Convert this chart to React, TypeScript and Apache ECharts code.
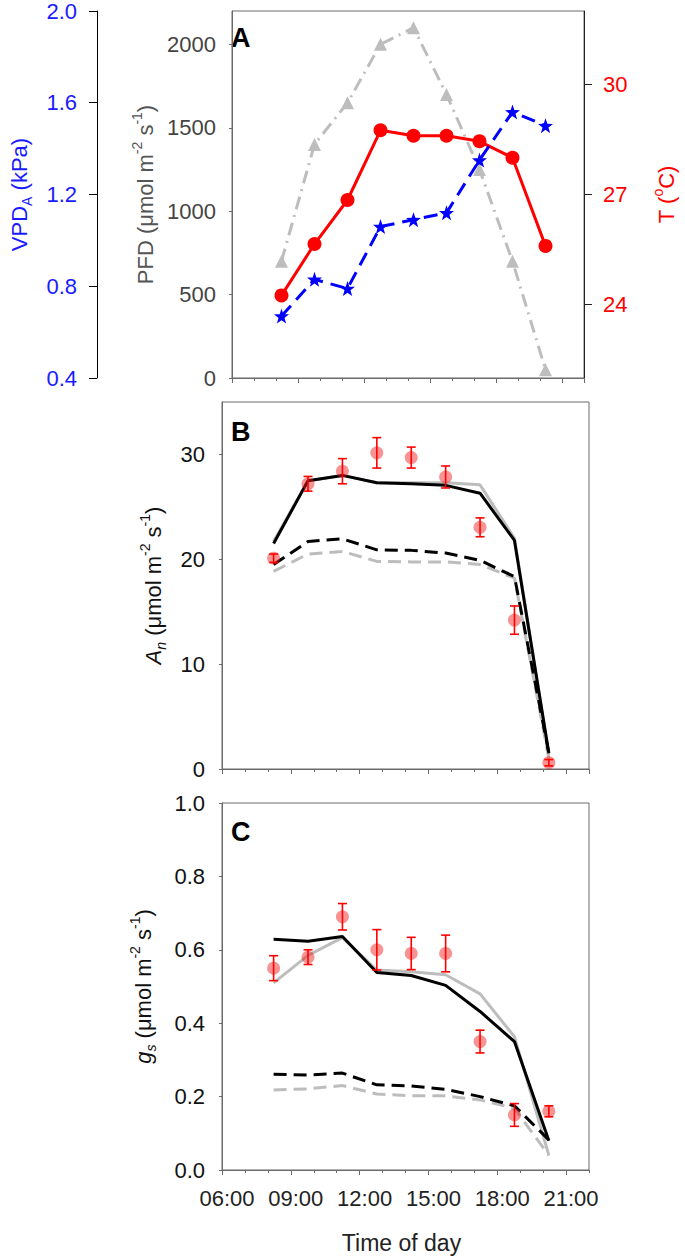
import React, { useEffect, useRef } from "react";
import * as echarts from "echarts";

// ---- data ----
const times = [8.25, 9.75, 11.25, 12.75, 14.25, 15.75, 17.25, 18.75, 20.25];
const xTickLabels = ["06:00", "09:00", "12:00", "15:00", "18:00", "21:00"];

// Panel A
const pfd = [700, 1400, 1650, 2000, 2100, 1700, 1250, 700, 50];
const temp = [24.25, 25.65, 26.85, 28.75, 28.6, 28.6, 28.45, 28.0, 25.6];
const vpd = [0.67, 0.83, 0.79, 1.06, 1.09, 1.12, 1.35, 1.56, 1.5];
const pfdTicks = [0, 500, 1000, 1500, 2000];
const tempTicks = [24, 27, 30];

// Panel B
const anObs = [20.1, 27.2, 28.4, 30.15, 29.7, 27.85, 23.05, 14.2, 0.6];
const anErr = [0.4, 0.7, 1.2, 1.45, 1.0, 1.05, 0.9, 1.35, 0.3];
const anSolidBlack = [21.5, 27.5, 28.0, 27.3, 27.2, 27.05, 26.3, 21.8, 1.5];
const anSolidGray = [21.7, 27.5, 28.0, 27.3, 27.3, 27.3, 27.1, 22.0, 1.3];
const anDashBlack = [19.5, 21.7, 21.95, 20.9, 20.85, 20.6, 19.9, 18.35, 1.5];
const anDashGray = [18.85, 20.5, 20.75, 19.8, 19.75, 19.75, 19.5, 18.2, 1.0];
const anTicks = [0, 10, 20, 30];

// Panel C
const gsObs = [0.55, 0.58, 0.69, 0.6, 0.59, 0.59, 0.35, 0.15, 0.16];
const gsErr = [0.034, 0.02, 0.036, 0.055, 0.044, 0.05, 0.031, 0.031, 0.015];
const gsSolidBlack = [0.629, 0.623, 0.636, 0.538, 0.53, 0.503, 0.432, 0.35, 0.08];
const gsSolidGray = [0.51, 0.585, 0.633, 0.545, 0.54, 0.532, 0.48, 0.363, 0.04];
const gsDashBlack = [0.261, 0.259, 0.264, 0.232, 0.229, 0.22, 0.2, 0.175, 0.082];
const gsDashGray = [0.218, 0.221, 0.23, 0.207, 0.202, 0.202, 0.191, 0.168, 0.04];

const FONT = "Liberation Sans, Arial, sans-serif";
const TICK_FS = 22;

const pts = (arr: number[]) => times.map((t, i) => [t, arr[i]]);

function errorBars(xIdx: number, yIdx: number, obs: number[], err: number[]) {
  return {
    type: "custom",
    xAxisIndex: xIdx,
    yAxisIndex: yIdx,
    z: 6,
    data: times.map((t, i) => [t, obs[i] - err[i], obs[i] + err[i]]),
    encode: { x: 0, y: [1, 2] },
    renderItem: (params: any, api: any) => {
      const x = api.value(0);
      const lo = api.coord([x, api.value(1)]);
      const hi = api.coord([x, api.value(2)]);
      const w = 4.5;
      const style = { stroke: "#ff0000", lineWidth: 1.6 };
      return {
        type: "group",
        children: [
          { type: "line", shape: { x1: lo[0], y1: lo[1], x2: hi[0], y2: hi[1] }, style },
          { type: "line", shape: { x1: lo[0] - w, y1: lo[1], x2: lo[0] + w, y2: lo[1] }, style },
          { type: "line", shape: { x1: hi[0] - w, y1: hi[1], x2: hi[0] + w, y2: hi[1] }, style },
        ],
      };
    },
  };
}

function modelLine(xIdx: number, yIdx: number, arr: number[], color: string, dashed: boolean, z: number) {
  return {
    type: "line",
    xAxisIndex: xIdx,
    yAxisIndex: yIdx,
    data: pts(arr),
    showSymbol: false,
    symbol: "none",
    z,
    lineStyle: { color, width: 3, type: dashed ? [13, 7] : "solid" },
  };
}

function obsScatter(xIdx: number, yIdx: number, arr: number[]) {
  return {
    type: "scatter",
    xAxisIndex: xIdx,
    yAxisIndex: yIdx,
    data: pts(arr),
    symbol: "circle",
    symbolSize: 13,
    z: 5,
    itemStyle: { color: "rgba(240,30,30,0.6)" },
  };
}

const grids = [
  { left: 222, top: 10, width: 367, height: 368 },
  { left: 222, top: 402, width: 367, height: 367 },
  { left: 222, top: 803, width: 367, height: 367 },
].map((g) => ({ ...g, show: true, borderColor: "#6a6a6a", borderWidth: 1, containLabel: false }));

function xAxes() {
  const out: any[] = [];
  for (let g = 0; g < 3; g++) {
    out.push({
      type: "value",
      gridIndex: g,
      position: "bottom",
      min: 6,
      max: 22,
      interval: 3,
      axisLine: { show: true, onZero: false, lineStyle: { color: "#6a6a6a", width: 1 } },
      axisTick: { show: true, length: 5, lineStyle: { color: "#6a6a6a", width: 1 } },
      splitLine: { show: false },
      axisLabel: {
        show: g === 2,
        margin: 17,
        fontSize: TICK_FS,
        color: "#222",
        fontFamily: FONT,
        padding: [0, 0, 0, 10],
        formatter: (v: number) => xTickLabels[Math.round((v - 6) / 3)] ?? "",
        showMaxLabel: false,
      },
      name: g === 2 ? "Time of day" : "",
      nameLocation: "middle",
      nameGap: 61,
      nameTextStyle: { fontSize: 23, color: "#222", fontFamily: FONT, padding: [0, 8, 0, 0] },
    });
  }
  for (let g = 0; g < 3; g++) {
    out.push({
      type: "value",
      gridIndex: g,
      position: "bottom",
      min: 6,
      max: 22,
      interval: 1,
      axisLine: { show: false, onZero: false },
      axisTick: { show: true, length: 3, lineStyle: { color: "#6a6a6a", width: 1 } },
      splitLine: { show: false },
      axisLabel: { show: false },
    });
  }
  return out;
}

const supRich = (color: string) => ({
  a: { fontSize: 22, color, fontFamily: FONT, lineHeight: 30, verticalAlign: "middle" },
  i: { fontSize: 22, color, fontFamily: FONT, fontStyle: "italic", lineHeight: 30, verticalAlign: "middle" },
  sup: { fontSize: 14, color, fontFamily: FONT, lineHeight: 17, verticalAlign: "top" },
  sub: { fontSize: 14, color, fontFamily: FONT, lineHeight: 17, verticalAlign: "bottom" },
  subi: { fontSize: 14, color, fontFamily: FONT, fontStyle: "italic", lineHeight: 17, verticalAlign: "bottom" },
});

const yAxes: any[] = [
  {
    // 0: PFD
    type: "value",
    gridIndex: 0,
    position: "left",
    min: 0,
    max: 2200,
    axisLine: { show: true, onZero: false, lineStyle: { color: "#6a6a6a" } },
    axisTick: { show: true, length: 3, customValues: pfdTicks, lineStyle: { color: "#6a6a6a" } },
    axisLabel: {
      customValues: pfdTicks,
      margin: 16,
      fontSize: TICK_FS,
      color: "#444",
      fontFamily: FONT,
      formatter: (v: number) => String(v),
    },
    splitLine: { show: false },
    name: "{a|PFD (μmol m}{sup|-2}{a| s}{sup|-1}{a|)}",
    nameLocation: "middle",
    nameRotate: 90,
    nameGap: 72,
    nameTextStyle: { rich: supRich("#555") },
  },
  {
    // 1: VPD
    type: "value",
    gridIndex: 0,
    position: "left",
    offset: 135,
    min: 0.4,
    max: 2.0,
    interval: 0.4,
    axisLine: { show: true, onZero: false, lineStyle: { color: "#000" } },
    axisTick: { show: true, length: 8, lineStyle: { color: "#000" } },
    axisLabel: {
      margin: 20,
      fontSize: TICK_FS,
      color: "#1a1aff",
      fontFamily: FONT,
      formatter: (v: number) => v.toFixed(1),
    },
    splitLine: { show: false },
    name: "{a|VPD}{sub|A}{a| (kPa)}",
    nameLocation: "middle",
    nameRotate: 90,
    nameGap: 63,
    nameTextStyle: { rich: supRich("#1a1aff") },
  },
  {
    // 2: T
    type: "value",
    gridIndex: 0,
    position: "right",
    min: 22,
    max: 32,
    axisLine: { show: true, onZero: false, lineStyle: { color: "#222" } },
    axisTick: { show: true, length: 8, customValues: tempTicks, lineStyle: { color: "#222" } },
    axisLabel: { customValues: tempTicks, margin: 19, fontSize: TICK_FS, color: "#ff0000", fontFamily: FONT },
    splitLine: { show: false },
    name: "{a|T (}{sup|o}{a|C)}",
    nameLocation: "middle",
    nameRotate: 90,
    nameGap: 67,
    nameTextStyle: { rich: supRich("#ff0000") },
  },
  {
    // 3: An
    type: "value",
    gridIndex: 1,
    position: "left",
    min: 0,
    max: 35,
    axisLine: { show: true, onZero: false, lineStyle: { color: "#6a6a6a" } },
    axisTick: { show: true, length: 3, customValues: anTicks, lineStyle: { color: "#6a6a6a" } },
    axisLabel: { customValues: anTicks, margin: 17, fontSize: TICK_FS, color: "#111", fontFamily: FONT },
    splitLine: { show: false },
    name: "{i|A}{subi|n}{a| (μmol m}{sup|-2}{a| s}{sup|-1}{a|)}",
    nameLocation: "middle",
    nameRotate: 90,
    nameGap: 54,
    nameTextStyle: { rich: supRich("#111") },
  },
  {
    // 4: gs
    type: "value",
    gridIndex: 2,
    position: "left",
    min: 0,
    max: 1,
    interval: 0.2,
    axisLine: { show: true, onZero: false, lineStyle: { color: "#6a6a6a" } },
    axisTick: { show: true, length: 3, lineStyle: { color: "#6a6a6a" } },
    axisLabel: {
      margin: 17,
      fontSize: TICK_FS,
      color: "#111",
      fontFamily: FONT,
      formatter: (v: number) => v.toFixed(1),
    },
    splitLine: { show: false },
    name: "{i|g}{subi|s}{a| (μmol m}{sup|-2}{a| s}{sup|-1}{a|)}",
    nameLocation: "middle",
    nameRotate: 90,
    nameGap: 64,
    nameTextStyle: { rich: supRich("#111") },
  },
];

const series: any[] = [
  // Panel A
  {
    type: "line",
    xAxisIndex: 0,
    yAxisIndex: 0,
    data: pts(pfd),
    symbol: "triangle",
    symbolSize: 13,
    z: 2,
    itemStyle: { color: "#bdbdbd" },
    lineStyle: { color: "#bdbdbd", width: 3, type: [13, 6, 2, 6] },
  },
  {
    type: "line",
    xAxisIndex: 0,
    yAxisIndex: 2,
    data: pts(temp),
    symbol: "circle",
    symbolSize: 14,
    z: 3,
    itemStyle: { color: "#ff0000" },
    lineStyle: { color: "#ff0000", width: 3 },
  },
  {
    type: "line",
    xAxisIndex: 0,
    yAxisIndex: 1,
    data: pts(vpd),
    symbol:
      "path://M0,-10 L2.35,-3.24 L9.51,-3.09 L3.8,1.24 L5.88,8.09 L0,4 L-5.88,8.09 L-3.8,1.24 L-9.51,-3.09 L-2.35,-3.24 Z",
    symbolSize: 15,
    z: 4,
    itemStyle: { color: "#0000ff" },
    lineStyle: { color: "#0000ff", width: 3, type: [14, 8] },
  },
  // Panel B
  modelLine(1, 3, anSolidGray, "#bdbdbd", false, 2),
  modelLine(1, 3, anDashGray, "#bdbdbd", true, 2),
  modelLine(1, 3, anSolidBlack, "#000000", false, 3),
  modelLine(1, 3, anDashBlack, "#000000", true, 3),
  obsScatter(1, 3, anObs),
  errorBars(1, 3, anObs, anErr),
  // Panel C
  modelLine(2, 4, gsSolidGray, "#bdbdbd", false, 2),
  modelLine(2, 4, gsDashGray, "#bdbdbd", true, 2),
  modelLine(2, 4, gsSolidBlack, "#000000", false, 3),
  modelLine(2, 4, gsDashBlack, "#000000", true, 3),
  obsScatter(2, 4, gsObs),
  errorBars(2, 4, gsObs, gsErr),
];

const panelLabel = (text: string, y: number) => ({
  type: "text",
  left: 231,
  top: y,
  style: { text, fontSize: 27, fontWeight: "bold", fill: "#000", fontFamily: FONT },
});

export default function App() {
  const ref = useRef<HTMLDivElement>(null);
  useEffect(() => {
    if (!ref.current) return;
    const chart = echarts.init(ref.current, undefined, { renderer: "svg" });
    chart.setOption({
      animation: false,
      backgroundColor: "#ffffff",
      textStyle: { fontFamily: FONT },
      grid: grids,
      xAxis: xAxes(),
      yAxis: yAxes,
      series,
      graphic: [panelLabel("A", 24), panelLabel("B", 418), panelLabel("C", 818)],
    });
    return () => chart.dispose();
  }, []);
  return (
    <div
      ref={ref}
      style={{ position: "absolute", left: 0, top: 0, width: 685, height: 1260, background: "#fff" }}
    />
  );
}
